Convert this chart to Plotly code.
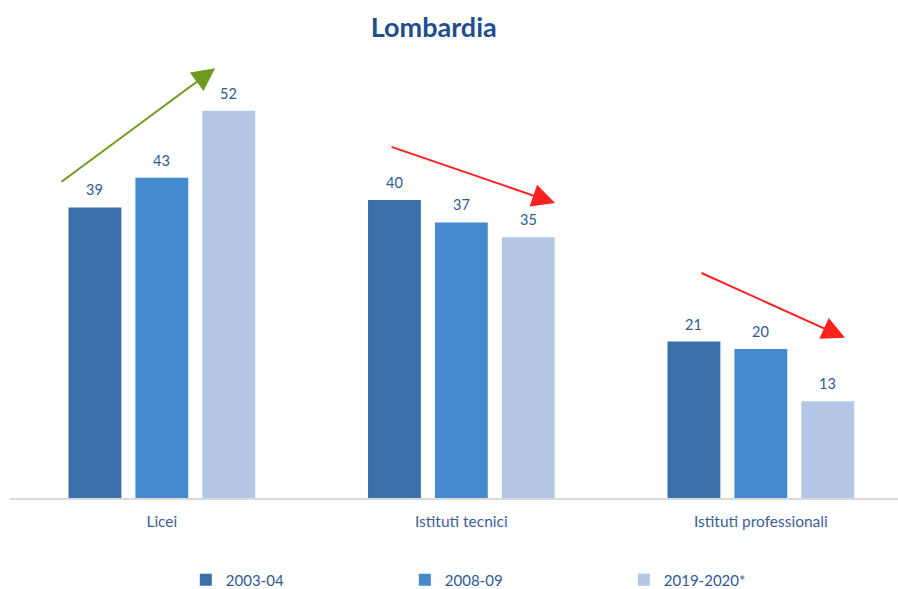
import plotly.graph_objects as go

# Data
categories = ["Licei", "Istituti tecnici", "Istituti professionali"]
series_names = ["2003-04", "2008-09", "2019-2020*"]
values_2003 = [39, 40, 21]
values_2008 = [43, 37, 20]
values_2019 = [52, 35, 13]
series_values = [values_2003, values_2008, values_2019]
series_colors = ["#3A70AA", "#4589CF", "#B4C7E7"]

# Trend arrows: (tail_x, tail_y, head_x, head_y, colour) in axis units
trend_arrows = [
    (-0.34, 42.3, 0.178, 57.7, "#6E9A1E"),
    (0.762, 47.2, 1.313, 39.6, "#FF2020"),
    (1.797, 30.3, 2.281, 21.5, "#FF2020"),
]

FONT = "Lato"
LABEL_COLOR = "#2F5A94"

fig = go.Figure()
for name, vals, col in zip(series_names, series_values, series_colors):
    fig.add_trace(go.Bar(
        x=categories, y=vals, name=name,
        marker=dict(color=col, line=dict(width=0)),
        hoverinfo="x+y+name",
    ))

# Value labels above each bar
slot_px = 67
for i, vals in enumerate(series_values):
    for cat, v in zip(categories, vals):
        fig.add_annotation(
            x=cat, y=v, text=str(v), showarrow=False,
            xshift=(i - 1) * slot_px, yshift=7, yanchor="bottom",
            font=dict(family=FONT, size=14.5, color=LABEL_COLOR),
        )

for tx, ty, hx, hy, col in trend_arrows:
    fig.add_annotation(
        x=hx, y=hy, ax=tx, ay=ty, xref="x", yref="y", axref="x", ayref="y",
        text="", showarrow=True, arrowhead=2, arrowsize=2.3, arrowwidth=2,
        arrowcolor=col, standoff=0,
    )

fig.update_layout(
    width=898, height=589,
    margin=dict(l=10, r=0, t=60, b=91, autoexpand=False),
    paper_bgcolor="white", plot_bgcolor="white",
    barmode="group", bargap=0.33, bargroupgap=0.21,
    title=dict(text="<b>Lombardia</b>", x=0.483, xanchor="center",
               y=0.953, yanchor="middle",
               font=dict(family=FONT, size=27, color="#1F4E8C")),
    font=dict(family=FONT, color="#3A5F95"),
    xaxis=dict(
        type="category", range=[-0.507, 2.458],
        showline=True, linecolor="#D9D9D9", linewidth=1.5,
        showgrid=False, zeroline=False, ticks="",
        ticklabelstandoff=9,
        tickfont=dict(family=FONT, size=15.5, color="#3A5F95"),
    ),
    yaxis=dict(range=[0, 58.8], visible=False, showgrid=False, zeroline=False),
    legend=dict(
        orientation="h", x=0.198, xanchor="left", y=-0.187, yanchor="middle",
        entrywidth=174, entrywidthmode="pixels", itemwidth=30,
        font=dict(family=FONT, size=15, color="#2F5A94"),
        traceorder="normal",
    ),
    showlegend=True,
)

fig.write_html("out.html")
